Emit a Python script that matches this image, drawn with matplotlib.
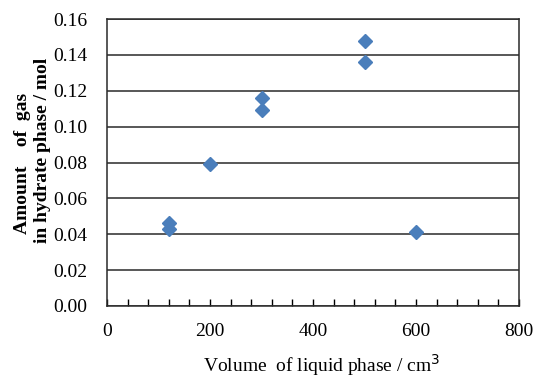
import numpy as np
import matplotlib.pyplot as plt
from matplotlib.ticker import MultipleLocator

# data
volume = [120, 120, 200, 300, 300, 500, 500, 600]
amount = [0.046, 0.043, 0.079, 0.116, 0.109, 0.148, 0.136, 0.041]

plt.rcParams['font.family'] = ['Liberation Serif', 'DejaVu Serif']

fig = plt.figure(figsize=(5.38, 3.81), dpi=100)
ax = fig.add_axes([107/538, 1-306/381, (519-107)/538, (306-19)/381])

ax.plot(volume, amount, 'D', color='#4a7ebb', markersize=7, zorder=3)

ax.set_xlim(0, 800)
ax.set_ylim(0, 0.16)
ax.xaxis.set_major_locator(MultipleLocator(200))
ax.xaxis.set_minor_locator(MultipleLocator(40))
ax.yaxis.set_major_locator(MultipleLocator(0.02))
ax.set_yticklabels(['%.2f' % v for v in ax.get_yticks()])

ax.grid(True, axis='y', color='#2a2a2a', linewidth=1.1)
ax.tick_params(axis='x', which='both', direction='in', length=5, width=1,
               pad=12, labelsize=14)
ax.tick_params(axis='y', length=0, pad=14, labelsize=14)
for s in ax.spines.values():
    s.set_color('#2a2a2a')
    s.set_linewidth(1.1)

ax.set_xlabel('Volume  of liquid phase / cm$^3$', fontsize=14, labelpad=4)
ax.xaxis.set_label_coords(0.52, -0.16)

# y label: two bold lines
fig.text(23/538, 1-163/381, 'Amount    of  gas', rotation=90, ha='center',
         va='center', fontsize=14, fontweight='bold')
fig.text(43/538, 1-150/381, 'in hydrate phase / mol', rotation=90, ha='center',
         va='center', fontsize=14, fontweight='bold')

fig.savefig('out.png', dpi=100)
